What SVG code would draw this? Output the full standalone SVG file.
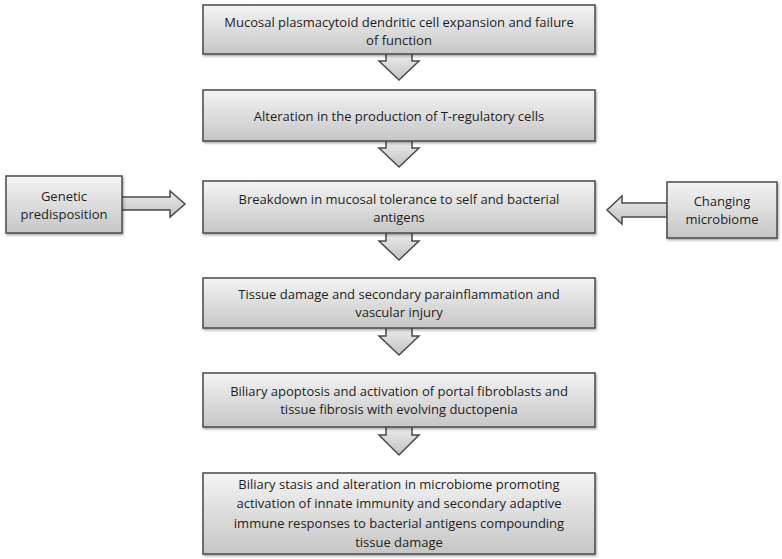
<svg xmlns="http://www.w3.org/2000/svg" width="782" height="559" viewBox="0 0 782 559">
<defs>
<linearGradient id="g" x1="0" y1="0" x2="0" y2="1">
<stop offset="0" stop-color="#f4f4f4"/>
<stop offset="1" stop-color="#c6c6c6"/>
</linearGradient>
<linearGradient id="gh" x1="0" y1="0" x2="0" y2="1">
<stop offset="0" stop-color="#ececec"/>
<stop offset="1" stop-color="#c2c2c2"/>
</linearGradient>
<filter id="sh" x="-5%" y="-10%" width="110%" height="130%">
<feDropShadow dx="1" dy="1.5" stdDeviation="1" flood-color="#000" flood-opacity="0.35"/>
</filter>
</defs>
<style>
.box{fill:url(#g);stroke:#4a4a4a;stroke-width:1.5;filter:url(#sh)}
.arr{fill:url(#gh);stroke:#4a4a4a;stroke-width:1.5;stroke-linejoin:miter}
text{font-family:"Open Sans","Liberation Sans",Arial,sans-serif;font-size:13px;font-weight:500;fill:#1e1e1e;text-anchor:middle;dominant-baseline:central}
</style>
<rect width="782" height="559" fill="#fff"/>
<g id="connectors">
<path class="arr" d="M386,54 V61 H379 L399,80 L419,61 H412 V54"/>
<path class="arr" d="M386,141 V148 H379 L399,167 L419,148 H412 V141"/>
<path class="arr" d="M386,233 V241 H379 L399,260 L419,241 H412 V233"/>
<path class="arr" d="M386,328 V336 H379 L399,355 L419,336 H412 V328"/>
<path class="arr" d="M386,427 V435 H379 L399,455 L419,435 H412 V427"/>
<path class="arr" d="M122,197 H170 V191 L185,204 L170,217 V210 H122"/>
<path class="arr" d="M667,203 H622 V196 L607,210 L622,224 V217 H667"/>
</g>
<g id="n1"><rect class="box" x="203" y="5" width="392" height="49"/>
<text x="399" y="21.5">Mucosal plasmacytoid dendritic cell expansion and failure</text>
<text x="399" y="39.5">of function</text></g>
<g id="n2"><rect class="box" x="203" y="90" width="392" height="51"/>
<text x="399" y="116">Alteration in the production of T-regulatory cells</text></g>
<g id="n3"><rect class="box" x="203" y="181" width="392" height="52"/>
<text x="399" y="199">Breakdown in mucosal tolerance to self and bacterial</text>
<text x="399" y="217">antigens</text></g>
<g id="n4"><rect class="box" x="203" y="278" width="392" height="50"/>
<text x="399" y="294">Tissue damage and secondary parainflammation and</text>
<text x="399" y="312">vascular injury</text></g>
<g id="n5"><rect class="box" x="203" y="373" width="392" height="54"/>
<text x="399" y="391">Biliary apoptosis and activation of portal fibroblasts and</text>
<text x="399" y="409">tissue fibrosis with evolving ductopenia</text></g>
<g id="n6"><rect class="box" x="203" y="473" width="392" height="81"/>
<text x="399" y="484">Biliary stasis and alteration in microbiome promoting</text>
<text x="399" y="503">activation of innate immunity and secondary adaptive</text>
<text x="399" y="523">immune responses to bacterial antigens compounding</text>
<text x="399" y="542">tissue damage</text></g>
<g id="genetic"><rect class="box" x="6" y="176" width="116" height="57"/>
<text x="64" y="196">Genetic</text>
<text x="64" y="214">predisposition</text></g>
<g id="microbiome"><rect class="box" x="667" y="182" width="110" height="56"/>
<text x="722" y="201">Changing</text>
<text x="722" y="219">microbiome</text></g>
</svg>
